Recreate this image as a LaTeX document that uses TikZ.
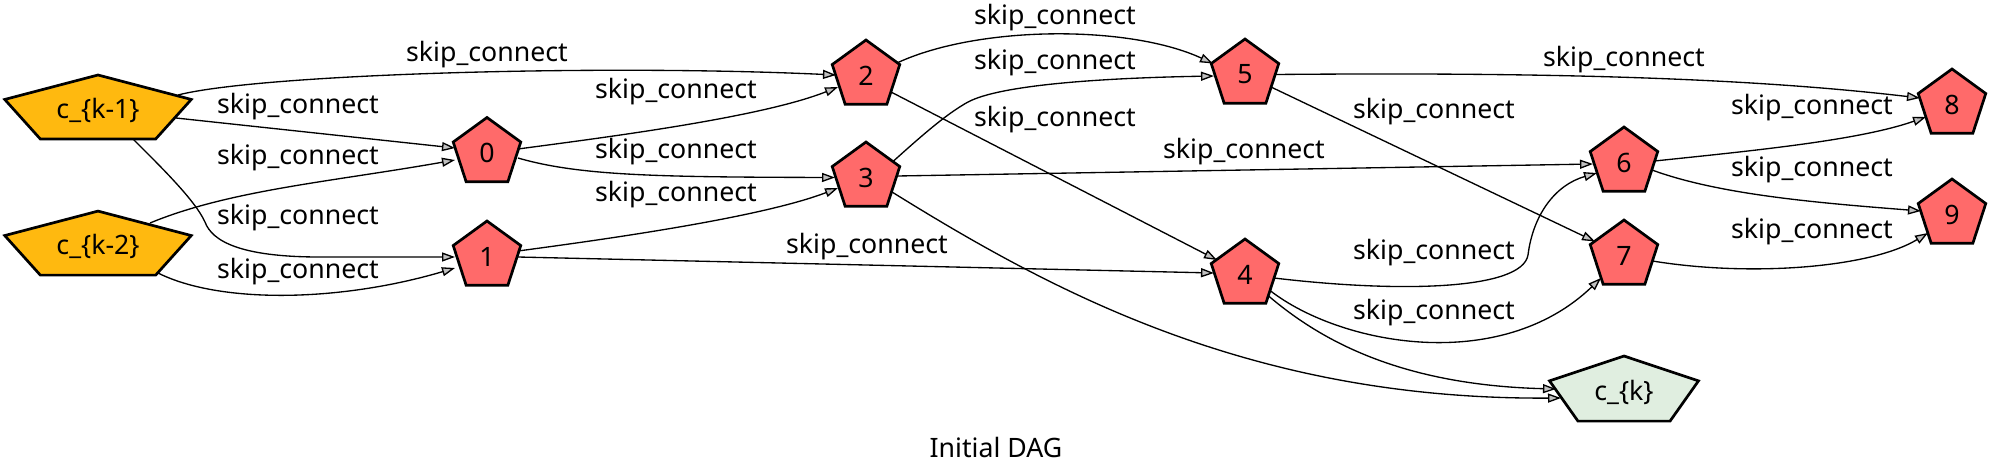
\documentclass[tikz,border=0pt]{standalone}
\usepackage{fontspec}
\setmainfont{Noto Sans}
\usetikzlibrary{shapes.geometric,arrows.meta}
\definecolor{redfill}{HTML}{FF6A6A}
\definecolor{orangefill}{HTML}{FFB90F}
\definecolor{greenfill}{HTML}{E0EEE0}
\definecolor{arrgray}{HTML}{C0C0C0}
\tikzset{
  txt/.style={font=\fontsize{26.7}{30}\selectfont, inner sep=0pt, text=black},
  pent/.style={regular polygon, regular polygon sides=5, draw=black, line width=2.7pt, inner sep=0pt},
  rednode/.style={pent, minimum size=71pt, fill=redfill, txt},
  bigshape/.style={pent, transform shape},
  conn/.style={line width=1.33pt, -{Triangle[length=13pt,width=9pt,fill=arrgray]}},
}
\begin{document}
\begin{tikzpicture}[x=1pt,y=-1pt]
\fill[white] (0,0) rectangle (1990,472);
\useasboundingbox (0,0) rectangle (1990,472);

% input / output nodes
\begin{scope}[shift={(98,110.4)}, xscale=2.77]
  \node[bigshape, minimum size=70.8pt, fill=orangefill] (km1) at (0,0) {};
\end{scope}
\node[txt] (km1t) at (km1.center) {c\_\{k-1\}};
\begin{scope}[shift={(98,246.5)}, xscale=2.77]
  \node[bigshape, minimum size=70.8pt, fill=orangefill] (km2) at (0,0) {};
\end{scope}
\node[txt] (km2t) at (km2.center) {c\_\{k-2\}};
\begin{scope}[shift={(1624,392)}, xscale=2.175]
  \node[bigshape, minimum size=72pt, fill=greenfill] (ck) at (0,0) {};
\end{scope}
\node[txt] (ckt) at (ck.center) {c\_\{k\}};

% intermediate nodes
\node[rednode] (n0) at (487,153) {0};
\node[rednode] (n1) at (487,256.5) {1};
\node[rednode] (n2) at (866,75.5) {2};
\node[rednode] (n3) at (866,177.5) {3};
\node[rednode] (n4) at (1245,274.5) {4};
\node[rednode] (n5) at (1245,74.5) {5};
\node[rednode] (n6) at (1624,162.5) {6};
\node[rednode] (n7) at (1624,255.5) {7};
\node[rednode] (n8) at (1952,104.5) {8};
\node[rednode] (n9) at (1952,214.5) {9};

% connectors
\draw[conn] ([shift={(80,-15.4)}]km1.center) .. controls (260,74) and (600,64) .. ([shift={(-30,-0.5)}]n2.center);
\draw[conn] ([shift={(78,7.6)}]km1.center) -- ([shift={(-32,-5)}]n0.center);
\draw[conn] ([shift={(52,-23.5)}]km2.center) .. controls (230,190) and (330,182) .. ([shift={(-32,7)}]n0.center);
\draw[conn] ([shift={(35,28.6)}]km1.center) .. controls (160,166) and (195,200) .. (205,222) .. controls (212,241) and (240,257) .. (320,257) -- ([shift={(-32,0.5)}]n1.center);
\draw[conn] ([shift={(60,26.5)}]km2.center) .. controls (220,304) and (340,302) .. ([shift={(-32,11.5)}]n1.center);

\draw[conn] ([shift={(31,-4)}]n0.center) .. controls (600,138) and (760,118) .. ([shift={(-28,11.5)}]n2.center);
\draw[conn] ([shift={(31,5)}]n0.center) .. controls (580,176) and (660,177) .. ([shift={(-31,0)}]n3.center);
\draw[conn] ([shift={(31,-5.5)}]n1.center) .. controls (600,240) and (760,218) .. ([shift={(-28,10.5)}]n3.center);
\draw[conn] ([shift={(31,0.5)}]n1.center) -- ([shift={(-31,-1.5)}]n4.center);

\draw[conn] ([shift={(32,-13)}]n2.center) .. controls (980,25) and (1130,25) .. ([shift={(-32,-11)}]n5.center);
\draw[conn] ([shift={(27,-16)}]n3.center) .. controls (930,128) and (950,112) .. (968,102) .. controls (1000,85) and (1100,78) .. ([shift={(-31,1.5)}]n5.center);
\draw[conn] ([shift={(25,16.5)}]n2.center) -- ([shift={(-28,-14.5)}]n4.center);
\draw[conn] ([shift={(31,-1.5)}]n3.center) -- ([shift={(-31,1.5)}]n6.center);
\draw[conn] ([shift={(26,14.5)}]n3.center) .. controls (1050,290) and (1250,400) .. ([shift={(-63,6)}]ck.center);

\draw[conn] ([shift={(23,21)}]n4.center) .. controls (1320,340) and (1400,385) .. ([shift={(-68,-3)}]ck.center);
\draw[conn] ([shift={(29,3.5)}]n4.center) .. controls (1400,293) and (1522,290) .. (1528,255) .. controls (1533,215) and (1555,185) .. ([shift={(-27,10.5)}]n6.center);
\draw[conn] ([shift={(25,16)}]n4.center) .. controls (1340,345) and (1500,375) .. ([shift={(-23,22.5)}]n7.center);

\draw[conn] ([shift={(30,0)}]n5.center) .. controls (1550,72) and (1750,78) .. ([shift={(-32,-6.5)}]n8.center);
\draw[conn] ([shift={(26,12.5)}]n5.center) -- ([shift={(-29,-14)}]n7.center);
\draw[conn] ([shift={(30.5,-1.5)}]n6.center) .. controls (1760,150) and (1860,140) .. ([shift={(-26,12.5)}]n8.center);
\draw[conn] ([shift={(28,7.5)}]n6.center) .. controls (1720,195) and (1820,203) .. ([shift={(-31,-3.5)}]n9.center);
\draw[conn] ([shift={(28.5,5.5)}]n7.center) .. controls (1750,277) and (1870,268) .. ([shift={(-24,18.5)}]n9.center);

% labels
\node[txt] (l1) at (487,55) {skip\_connect};
\node[txt] (l2) at (298,107) {skip\_connect};
\node[txt] (l3) at (298,158) {skip\_connect};
\node[txt] (l4) at (298,218) {skip\_connect};
\node[txt] (l5) at (298,272) {skip\_connect};
\node[txt] (l6) at (676,92) {skip\_connect};
\node[txt] (l7) at (676,152) {skip\_connect};
\node[txt] (l8) at (676,195) {skip\_connect};
\node[txt] (l9) at (867,247) {skip\_connect};
\node[txt] (l10) at (1055,18) {skip\_connect};
\node[txt] (l11) at (1055,63) {skip\_connect};
\node[txt] (l12) at (1055,120) {skip\_connect};
\node[txt] (l13) at (1244,152) {skip\_connect};
\node[txt] (l14) at (1624,60) {skip\_connect};
\node[txt] (l15) at (1434,112) {skip\_connect};
\node[txt] (l16) at (1812,108) {skip\_connect};
\node[txt] (l17) at (1812,170) {skip\_connect};
\node[txt] (l18) at (1812,232) {skip\_connect};
\node[txt] (l19) at (1434,253) {skip\_connect};
\node[txt] (l20) at (1434,313) {skip\_connect};

\node[txt] (title) at (996,447) {Initial DAG};
\end{tikzpicture}
\end{document}
